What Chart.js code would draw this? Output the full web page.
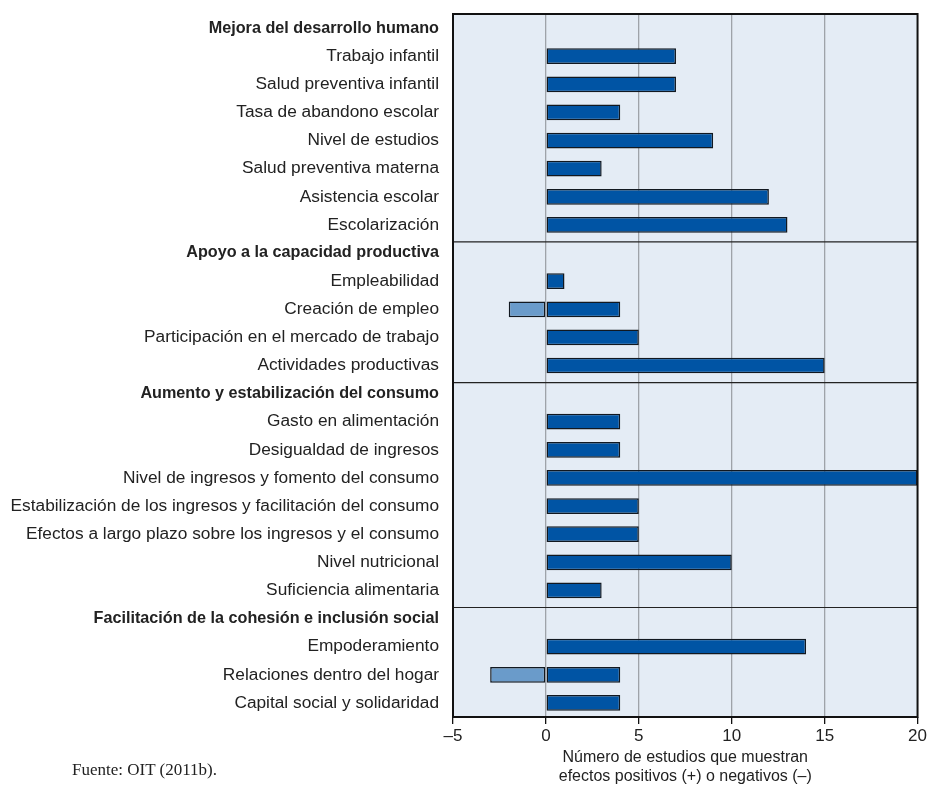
<!DOCTYPE html>
<html><head><meta charset="utf-8">
<script src="https://cdn.jsdelivr.net/npm/chart.js@4"></script>
<style>
html,body{margin:0;padding:0;background:#fff;}
#wrap{position:relative;width:929px;height:786px;}
#source{position:absolute;left:72px;top:760px;font-family:"Liberation Serif",serif;font-size:17px;line-height:20px;color:#222;white-space:nowrap;}
</style></head><body>
<div id="wrap"><canvas id="c" width="929" height="786"></canvas><div id="source">Fuente: OIT (2011b).</div></div>
<script>
const categories = [
  "Mejora del desarrollo humano",
  "Trabajo infantil",
  "Salud preventiva infantil",
  "Tasa de abandono escolar",
  "Nivel de estudios",
  "Salud preventiva materna",
  "Asistencia escolar",
  "Escolarización",
  "Apoyo a la capacidad productiva",
  "Empleabilidad",
  "Creación de empleo",
  "Participación en el mercado de trabajo",
  "Actividades productivas",
  "Aumento y estabilización del consumo",
  "Gasto en alimentación",
  "Desigualdad de ingresos",
  "Nivel de ingresos y fomento del consumo",
  "Estabilización de los ingresos y facilitación del consumo",
  "Efectos a largo plazo sobre los ingresos y el consumo",
  "Nivel nutricional",
  "Suficiencia alimentaria",
  "Facilitación de la cohesión e inclusión social",
  "Empoderamiento",
  "Relaciones dentro del hogar",
  "Capital social y solidaridad"
];
const headerRows = [0, 8, 13, 21];
const positiveValues = [null, 7, 7, 4, 9, 3, 12, 13, null, 1, 4, 5, 15, null, 4, 4, 20, 5, 5, 10, 3, null, 14, 4, 4];
const negativeValues = [null, null, null, null, null, null, null, null, null, null, -2, null, null, null, null, null, null, null, null, null, null, null, null, -3, null];
const xMin = -5, xMax = 20, xStep = 5;
const xTitle = ["Número de estudios que muestran", "efectos positivos (+) o negativos (–)"];

const FONT = "'Liberation Sans', Arial, sans-serif";

const framePlugin = {
  id: 'frame',
  beforeDraw(chart) {
    const {ctx, chartArea: a} = chart;
    ctx.save();
    ctx.fillStyle = '#e4ecf5';
    ctx.fillRect(a.left, a.top, a.right - a.left, a.bottom - a.top);
    ctx.restore();
  },
  beforeDatasetsDraw(chart) {
    const {ctx, chartArea: a} = chart;
    const y = chart.scales.y;
    ctx.save();
    ctx.strokeStyle = '#222';
    ctx.lineWidth = 1.2;
    headerRows.forEach(i => {
      if (i === 0) return;
      const py = (y.getPixelForValue(i - 1) + y.getPixelForValue(i)) / 2 + 3;
      ctx.beginPath();
      ctx.moveTo(a.left, py);
      ctx.lineTo(a.right, py);
      ctx.stroke();
    });
    ctx.restore();
  },
  afterDatasetsDraw(chart) {
    const {ctx, chartArea: a} = chart;
    ctx.save();
    ctx.strokeStyle = '#111';
    ctx.lineWidth = 2;
    ctx.strokeRect(a.left, a.top, a.right - a.left, a.bottom - a.top);
    ctx.restore();
  }
};

new Chart(document.getElementById('c'), {
  type: 'bar',
  data: {
    labels: categories,
    datasets: [
      {
        label: 'Positivos',
        data: positiveValues,
        backgroundColor: '#0054a4',
        borderColor: '#111820',
        borderWidth: 1.5,
        borderSkipped: false,
        barPercentage: 0.56,
        categoryPercentage: 1
      },
      {
        label: 'Negativos',
        data: negativeValues,
        backgroundColor: '#6a9bca',
        borderColor: '#111820',
        borderWidth: 1.5,
        borderSkipped: false,
        barPercentage: 0.56,
        categoryPercentage: 1
      }
    ]
  },
  options: {
    indexAxis: 'y',
    responsive: false,
    animation: false,
    layout: {padding: {top: 14, right: 11, left: 0, bottom: 0}},
    plugins: {legend: {display: false}, tooltip: {enabled: false}},
    scales: {
      x: {
        stacked: true,
        min: xMin,
        max: xMax,
        afterFit: (s) => { s.height = 69; },
        border: {display: false},
        grid: {
          color: (c) => (c.tick && (c.tick.value === xMin || c.tick.value === xMax)) ? 'rgba(0,0,0,0)' : '#9ea3a9',
          lineWidth: 1.3,
          tickColor: '#111',
          tickLength: 7,
          drawTicks: true
        },
        ticks: {
          stepSize: xStep,
          padding: 2,
          color: '#222',
          font: {family: FONT, size: 17},
          callback: (v) => String(v).replace('-', '–')
        },
        title: {
          display: true,
          text: xTitle,
          color: '#222',
          font: {family: FONT, size: 16, lineHeight: 1.2},
          padding: {top: 0, bottom: 0}
        }
      },
      y: {
        stacked: true,
        afterFit: (s) => { s.width = 453; s.paddingTop = 0; s.paddingBottom = 0; },
        border: {display: false},
        grid: {display: false, drawTicks: false},
        ticks: {
          padding: 14,
          color: '#222',
          autoSkip: false,
          font: (c) => headerRows.includes(c.index)
            ? {family: FONT, size: 16.2, weight: 'bold'}
            : {family: FONT, size: 17.3, weight: 'normal'}
        }
      }
    }
  },
  plugins: [framePlugin]
});
</script>
</body></html>
